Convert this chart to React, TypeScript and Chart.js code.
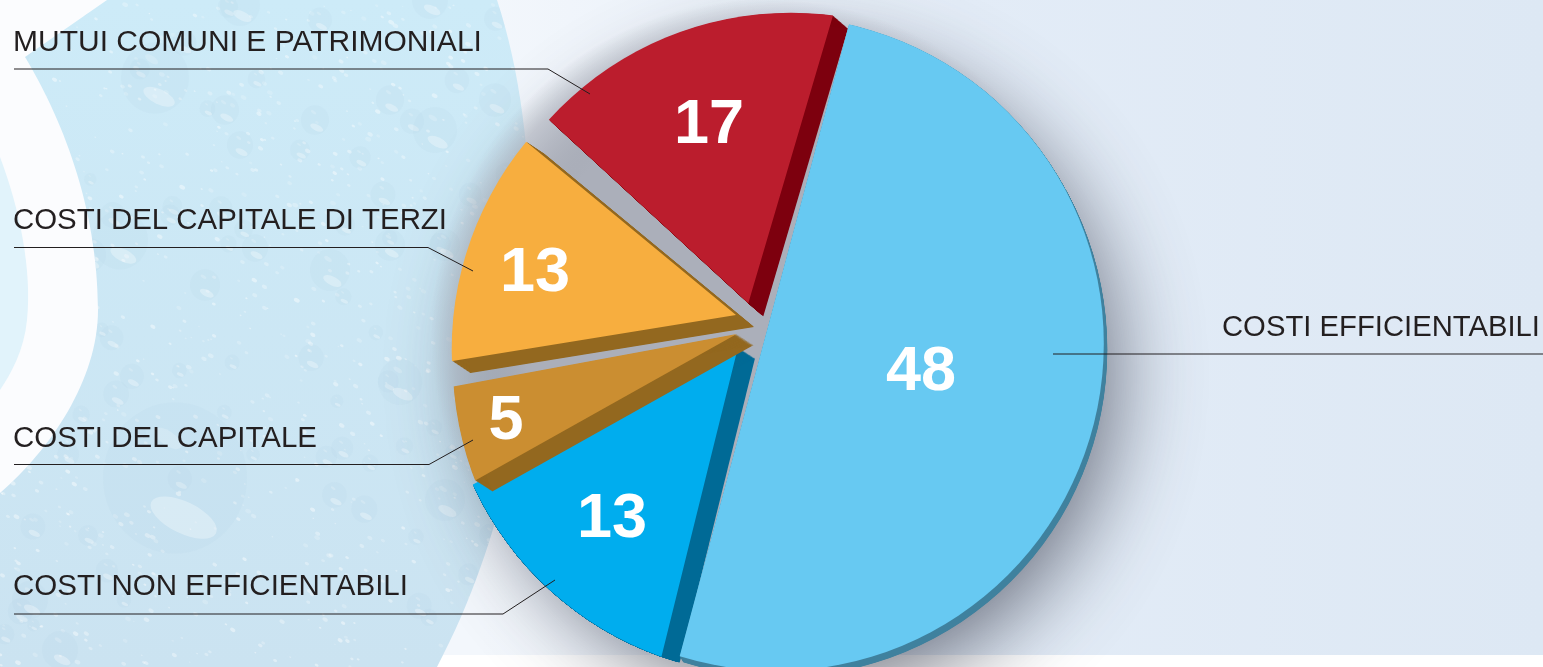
import React, { useEffect, useRef } from "react";
import { Chart, registerables } from "chart.js";

Chart.register(...registerables);

// ---- data (clockwise from the 15 degree rotation) ----
const categories = [
  "COSTI EFFICIENTABILI",
  "COSTI NON EFFICIENTABILI",
  "COSTI DEL CAPITALE",
  "COSTI DEL CAPITALE DI TERZI",
  "MUTUI COMUNI E PATRIMONIALI",
];
const values = [48, 13, 5, 13, 17];

// ---- styles ----
const faceColors = ["#67c9f2", "#00adee", "#cb8e31", "#f7ae3f", "#bb1d2d"];
const sideColors = ["#3f819e", "#006a96", "#93681f", "#93681f", "#7d000e"];
// how far each slice's point is pulled out from the chart centre
const explodeX = [5.8, -25, -26.3, -27, -14.7];
const explodeY = [1.6, 25.3, 12, -7, -18.7];
// small per-slice tilt of the perspective drawing, degrees
const tiltDeg = [0, -1.1, -3, -1.7, 1.4];
// extrusion vector of each slice
const sideX = [3.5, 17, 17, 18, 15];
const sideY = [6, 11, 11, 12, 13];
// whether the extruded side also moves past the slice's rim (0 = cut by the rim)
const sideRimFollow = [1, 0, 1, 1, 1];
// outer rim circle of each slice relative to the chart centre
const rimX = [13.5, 7.3, 17, 16, 28];
const rimY = [21.6, 26, 39.5, 27.7, 18];
const RIM_RADIUS = 327.3;
// painting order of the slices, back to front
const paintOrder = [4, 3, 1, 2, 0];

const valueX = [921, 612, 506, 535, 709];
const valueBase = [390, 537, 439, 291, 143];

const labelAnchor = [1222, 13, 13, 13, 13];
const labelBase = [336, 595, 447, 229, 51];
const labelWidth = [318, 395, 304, 434, 470];
const leaders: number[][] = [
  [1053, 354, 1543, 354],
  [14, 614, 503, 614, 555, 580],
  [14, 464.5, 429, 464.5, 473, 440],
  [14, 247.5, 428, 247.5, 473, 271],
  [14, 69, 548, 69, 590, 94],
];

// large water drops of the backdrop: x, y, radius
const bigDrops: number[][] = [
  [155, 78, 34], [175, 478, 72], [400, 382, 22], [330, 270, 20], [90, 255, 16],
  [435, 130, 22], [225, 110, 14], [315, 120, 14], [240, 145, 13], [390, 100, 14],
  [495, 100, 16], [240, 5, 20], [390, 245, 15], [205, 285, 15], [255, 248, 13],
  [120, 240, 28], [345, 225, 10], [445, 245, 15], [445, 500, 20], [60, 650, 18],
  [30, 600, 18], [300, 150, 10], [170, 215, 10], [430, 0, 18], [320, 20, 12],
];

function pad(seed: number) {
  let s = seed;
  return () => {
    s = (s * 1664525 + 1013904223) % 4294967296;
    return s / 4294967296;
  };
}

function dropletRegion(ctx: CanvasRenderingContext2D) {
  ctx.beginPath();
  ctx.moveTo(107, 0);
  ctx.lineTo(25, 57);
  ctx.bezierCurveTo(60, 115, 98, 205, 98, 310);
  ctx.bezierCurveTo(98, 380, 50, 450, 0, 493);
  ctx.lineTo(0, 667);
  ctx.lineTo(437, 667);
  ctx.bezierCurveTo(505, 540, 535, 380, 532, 250);
  ctx.bezierCurveTo(530, 150, 520, 70, 497, 0);
  ctx.closePath();
}

function drawDrop(ctx: CanvasRenderingContext2D, x: number, y: number, r: number) {
  ctx.fillStyle = "rgba(165,195,222,0.09)";
  ctx.beginPath();
  ctx.ellipse(x, y, r, r * 1.05, 0, 0, Math.PI * 2);
  ctx.fill();
  ctx.fillStyle = "rgba(255,255,255,0.3)";
  ctx.beginPath();
  ctx.ellipse(x + r * 0.12, y + r * 0.55, r * 0.5, r * 0.22, 0.45, 0, Math.PI * 2);
  ctx.fill();
  ctx.fillStyle = "rgba(255,255,255,0.18)";
  ctx.beginPath();
  ctx.ellipse(x - r * 0.1, y - r * 0.55, r * 0.22, r * 0.1, 0.6, 0, Math.PI * 2);
  ctx.fill();
}

function paintBackdrop(ctx: CanvasRenderingContext2D, w: number, h: number) {
  ctx.fillStyle = "#ffffff";
  ctx.fillRect(0, 0, w, h);
  ctx.fillStyle = "#fbfcfe";
  ctx.fillRect(0, 0, 420, h);
  const panel = ctx.createLinearGradient(480, 0, w, 0);
  panel.addColorStop(0, "#f3f7fc");
  panel.addColorStop(0.45, "#e3ecf7");
  panel.addColorStop(1, "#dde8f4");
  ctx.fillStyle = panel;
  ctx.fillRect(420, 0, w - 420, 655);

  ctx.save();
  dropletRegion(ctx);
  const wet = ctx.createLinearGradient(0, 0, 0, h);
  wet.addColorStop(0, "#cdebf8");
  wet.addColorStop(1, "#cbe3f1");
  ctx.fillStyle = wet;
  ctx.fill();
  ctx.clip();
  const rnd = pad(42);
  // fine specks of the water texture
  for (let i = 0; i < 900; i++) {
    const x = rnd() * 540;
    const y = rnd() * h;
    const r = 0.7 + rnd() * 1.9;
    ctx.fillStyle = `rgba(255,255,255,${0.15 + rnd() * 0.3})`;
    ctx.beginPath();
    ctx.ellipse(x, y, r * 1.2, r * 0.8, 0.5, 0, Math.PI * 2);
    ctx.fill();
  }
  for (let i = 0; i < 70; i++) {
    drawDrop(ctx, rnd() * 540, rnd() * h, 6 + rnd() * 7);
  }
  for (const [x, y, r] of bigDrops) drawDrop(ctx, x, y, r);
  ctx.restore();

  ctx.fillStyle = "#e1f3fb";
  ctx.beginPath();
  ctx.moveTo(0, 157);
  ctx.bezierCurveTo(20, 210, 32, 270, 27, 320);
  ctx.bezierCurveTo(24, 350, 12, 372, 0, 390);
  ctx.closePath();
  ctx.fill();
}

const piePainter = {
  id: "piePainter",
  beforeDraw(chart: any) {
    const { ctx, width, height, chartArea } = chart;
    paintBackdrop(ctx, width, height);
    const cx = (chartArea.left + chartArea.right) / 2;
    const cy = (chartArea.top + chartArea.bottom) / 2;
    // soft cast shadow only
    ctx.save();
    ctx.shadowColor = "rgba(62,66,82,0.74)";
    ctx.shadowBlur = 88;
    ctx.shadowOffsetX = 3000 + 20;
    ctx.shadowOffsetY = 30;
    ctx.fillStyle = "#000";
    ctx.beginPath();
    ctx.arc(cx + 13 - 3000, cy + 22, 318, 0, Math.PI * 2);
    ctx.fill();
    ctx.restore();
    // grey between the slices
    const g = ctx.createRadialGradient(cx + 3, cy + 12, 0, cx + 3, cy + 12, 335);
    g.addColorStop(0, "rgba(171,175,186,1)");
    g.addColorStop(0.72, "rgba(171,175,186,1)");
    g.addColorStop(0.92, "rgba(171,175,186,0.55)");
    g.addColorStop(1, "rgba(171,175,186,0)");
    ctx.fillStyle = g;
    ctx.beginPath();
    ctx.arc(cx + 3, cy + 12, 335, 0, Math.PI * 2);
    ctx.fill();
  },
  afterDatasetUpdate(chart: any) {
    const { chartArea } = chart;
    const meta = chart.getDatasetMeta(0);
    const cx = (chartArea.left + chartArea.right) / 2;
    const cy = (chartArea.top + chartArea.bottom) / 2;
    meta.data.forEach((el: any, i: number) => {
      const t = (tiltDeg[i] * Math.PI) / 180;
      el.x = cx + explodeX[i];
      el.y = cy + explodeY[i];
      el.startAngle += t;
      el.endAngle += t;
    });
  },
  beforeDatasetDraw(chart: any) {
    const { ctx, chartArea } = chart;
    const meta = chart.getDatasetMeta(0);
    const cx = (chartArea.left + chartArea.right) / 2;
    const cy = (chartArea.top + chartArea.bottom) / 2;
    for (const i of paintOrder) {
      const el = meta.data[i];
      const rim = (dx: number, dy: number) => {
        ctx.beginPath();
        ctx.arc(cx + rimX[i] + dx, cy + rimY[i] + dy, RIM_RADIUS, 0, Math.PI * 2);
        ctx.clip();
      };
      // extruded side
      const steps = 24;
      ctx.fillStyle = sideColors[i];
      for (let k = 1; k <= steps; k++) {
        const dx = (sideX[i] * k) / steps;
        const dy = (sideY[i] * k) / steps;
        ctx.save();
        rim(dx * sideRimFollow[i], dy * sideRimFollow[i]);
        ctx.beginPath();
        ctx.moveTo(el.x + dx, el.y + dy);
        ctx.arc(el.x + dx, el.y + dy, el.outerRadius, el.startAngle, el.endAngle);
        ctx.closePath();
        ctx.fill();
        ctx.restore();
      }
      // the slice itself, drawn by the library's arc element
      ctx.save();
      rim(0, 0);
      el.draw(ctx);
      ctx.restore();
    }
    return false;
  },
  afterDatasetsDraw(chart: any) {
    const { ctx } = chart;
    ctx.save();
    ctx.strokeStyle = "#231f20";
    ctx.lineWidth = 1;
    for (const pts of leaders) {
      ctx.beginPath();
      ctx.moveTo(pts[0], pts[1]);
      for (let k = 2; k < pts.length; k += 2) ctx.lineTo(pts[k], pts[k + 1]);
      ctx.stroke();
    }
    ctx.textBaseline = "alphabetic";
    ctx.textAlign = "left";
    ctx.fillStyle = "#231f20";
    ctx.font = "30px 'Liberation Sans'";
    categories.forEach((c, i) => ctx.fillText(c, labelAnchor[i], labelBase[i], labelWidth[i]));
    ctx.textAlign = "center";
    ctx.fillStyle = "#ffffff";
    ctx.font = "bold 63px 'Liberation Sans'";
    values.forEach((v, i) => ctx.fillText(String(v), valueX[i], valueBase[i]));
    ctx.restore();
  },
};

export default function App() {
  const ref = useRef<HTMLCanvasElement | null>(null);
  useEffect(() => {
    if (!ref.current) return;
    const chart = new Chart(ref.current, {
      type: "pie",
      data: {
        labels: categories,
        datasets: [
          {
            data: values,
            backgroundColor: faceColors,
            borderWidth: 0,
          },
        ],
      },
      options: {
        responsive: false,
        animation: false,
        devicePixelRatio: 1,
        rotation: 15,
        radius: 420,
        layout: { padding: { right: 17, bottom: 23 } },
        events: [],
        plugins: { legend: { display: false }, tooltip: { enabled: false }, title: { display: false } },
      },
      plugins: [piePainter],
    } as any);
    return () => chart.destroy();
  }, []);
  return (
    <canvas
      ref={ref}
      width={1543}
      height={667}
      style={{ position: "fixed", left: 0, top: 0, display: "block" }}
    />
  );
}
